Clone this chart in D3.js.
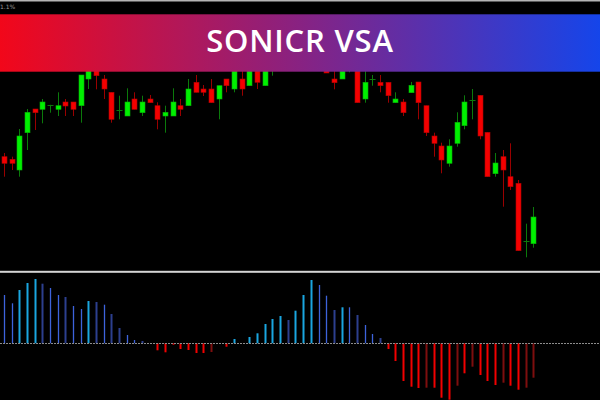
<!DOCTYPE html>
<html>
<head>
<meta charset="utf-8">
<script src="https://cdn.jsdelivr.net/npm/d3@7/dist/d3.min.js"></script>
<style>
html,body{margin:0;padding:0;background:#000;}
svg{display:block;}
</style>
</head>
<body>
<svg id="chart" width="600" height="400"></svg>
<script>
// ---- DATA ----
const title = "SONICR VSA";
const cornerLabel = "1.1%";
// candle index 0..69
const opens  = [143.3,140.7,130,167.3,191,190.7,194.8,190.7,198,198,194.3,221,234,221,207.7,190.5,184,201,187.3,201,
                194.3,184,184,194.3,194.3,217.7,211,211,201,221,211,221,214.3,238,214.3,240,255,245,258,272,
                268,270,242,221,221,238,250,201,220.8,217.7,217.7,197.3,198,207.3,218,194.3,164,154,136.7,156.7,
                174.3,200.5,204.7,167.7,126.3,143.3,123.3,116.7,59.5,56.3];
const highs  = [147,143.3,171,191,191,201,195.2,207.7,201,198,225,240,238,225,207.7,204.3,211.7,207.7,204.3,205,
                197.7,194.3,211.7,201,221,225,215,221,214.3,221,245,235,245,242,250,265,260,270,280,278,
                285,275,250,240,245,250,255,230,225,225,217.7,207.7,201,218,218,194.3,167.3,157.3,160.7,187.7,
                204.7,211,204.7,167.7,147,150,156.7,120,76.3,93];
const lows   = [123.3,130,123.3,150,170,176.7,187.3,184,184,184,177.3,211,210.7,201,177.3,180.7,184,190.7,184,197.3,
                170.7,167.3,184,184,194.3,207.7,204,197.3,180.7,207.7,207.7,204.3,214.3,211,214.3,224.3,234,238,252,250,
                255,240,227,210.7,221,227.7,197.3,197.3,214.3,207.7,197.3,197.3,184,207.3,180.7,164,143.3,126.7,133.3,153.3,
                170.7,180.7,160.7,123.3,123.3,93.3,110,49.3,42.7,52.3];
const closes = [136.7,136.7,164,187.7,187.3,198,195.2,194.3,194,190.7,225,235,224.3,211,180.7,190.9,198,190.7,198,197.3,
                180.7,187.7,198,190.7,211,207.7,207.7,197.3,214.3,214.3,240,211,240,217.7,245,260,242,262,275,260,
                280,248,227,217.3,240,240,197.3,217.7,221.2,214.3,204.3,201,187.3,214.7,197.3,167.3,156.7,140,154,177.7,
                198,200.9,164,123.3,137,130,113.3,49.3,59.9,83];
// oscillator histogram (one value per candle)
const vsaValues = [48.3,40,53.3,60.3,64.3,59.6,55.3,48.3,46.3,37.3,34.3,42.3,41.3,38.6,29.3,15.3,8.3,3.3,2.3,0,
                   -7,-9,-1.4,-5.7,-6.7,-9.7,-9.7,-8.7,0,-3.4,4.3,0,6.3,10,19.3,24.3,27.3,23.3,32.6,48.3,
                   63.3,58.3,47.6,33.3,36,36,28.3,18.3,9.3,5.3,-5.7,-17.7,-37.7,-43.4,-44.7,-44.4,-44.4,-54.4,-56.4,-42.4,
                   -30,-23.4,-31.7,-37.7,-41.7,-39.4,-42.4,-46.4,-44.4,-34.4];
// bar class: c = strong up, b = up, d = weak up, R = strong down, r = weak down
const vsaClass = ["b","b","c","c","c","d","b","b","d","b","b","c","d","b","d","d","b","b","d","b",
                  "R","R","R","R","R","R","R","r","R","R","c","c","c","c","c","c","c","d","c","c",
                  "c","b","b","d","c","b","d","b","b","d","R","R","R","R","R","r","R","R","R","r",
                  "R","r","R","R","R","r","R","R","r","r"];

// ---- LAYOUT ----
const W = 600, H = 400;
const svg = d3.select("#chart");
svg.append("rect").attr("width", W).attr("height", H).attr("fill", "#000");

const idx = d3.range(opens.length);
const x = d3.scalePoint().domain(idx).range([4, 533.3]);
const yP = d3.scaleLinear().domain([0, 300]).range([300, 0]);
const yV = d3.scaleLinear().domain([-60, 72]).range([403.3, 271.3]);

const defs = svg.append("defs");
defs.append("clipPath").attr("id", "pclip").append("rect")
  .attr("x", 0).attr("y", 14).attr("width", W).attr("height", 256);

const grad = defs.append("linearGradient").attr("id", "bannerGrad")
  .attr("x1", "0%").attr("x2", "100%").attr("y1", "0%").attr("y2", "0%");
grad.append("stop").attr("offset", "0%").attr("stop-color", "#f2071a");
grad.append("stop").attr("offset", "50%").attr("stop-color", "#882282");
grad.append("stop").attr("offset", "100%").attr("stop-color", "#1545ea");

// ---- CANDLES ----
const pane = svg.append("g").attr("clip-path", "url(#pclip)");
const candles = pane.selectAll("g.c").data(idx).join("g").attr("class", "c");
const isUp = i => closes[i] >= opens[i];
const isDoji = i => Math.abs(closes[i] - opens[i]) < 1;
candles.append("line")
  .attr("x1", i => Math.round(x(i)) + 0.5).attr("x2", i => Math.round(x(i)) + 0.5)
  .attr("y1", i => yP(highs[i])).attr("y2", i => yP(lows[i]))
  .attr("stroke", i => isUp(i) ? "#0b7a0b" : "#9a0000").attr("stroke-width", 1);
candles.filter(i => !isDoji(i)).append("rect")
  .attr("x", i => Math.round(x(i)) - 2)
  .attr("width", 5)
  .attr("y", i => yP(Math.max(opens[i], closes[i])))
  .attr("height", i => Math.abs(yP(opens[i]) - yP(closes[i])))
  .attr("fill", i => isUp(i) ? "#00f000" : "#f40000")
  .attr("stroke", i => isUp(i) ? "#04b004" : "#b00000").attr("stroke-width", 0.6);
candles.filter(i => isDoji(i)).append("line")
  .attr("x1", i => Math.round(x(i)) - 2.5).attr("x2", i => Math.round(x(i)) + 3.5)
  .attr("y1", i => Math.round(yP(opens[i])) + 0.5).attr("y2", i => Math.round(yP(opens[i])) + 0.5)
  .attr("stroke", "#0b7a0b").attr("stroke-width", 1);

// ---- separator ----
svg.append("rect").attr("x", 0).attr("y", 270.8).attr("width", W).attr("height", 2).attr("fill", "#d4d4d4");

// ---- HISTOGRAM ----
const colorOf = {c: "#1aa6e0", b: "#3d63dc", d: "#2c3f8e", R: "#f20000", r: "#7e0e0e"};
const widthOf = {c: 2, b: 1.3, d: 2, R: 2, r: 2};
svg.append("g").selectAll("rect").data(idx.filter(i => vsaValues[i] !== 0)).join("rect")
  .attr("x", i => Math.round(x(i)) - widthOf[vsaClass[i]] / 2 + 0.5)
  .attr("width", i => widthOf[vsaClass[i]])
  .attr("y", i => Math.min(yV(vsaValues[i]), yV(0)))
  .attr("height", i => Math.abs(yV(vsaValues[i]) - yV(0)))
  .attr("fill", i => colorOf[vsaClass[i]]);

svg.append("line")
  .attr("x1", 0).attr("x2", W)
  .attr("y1", Math.round(yV(0)) + 0.5).attr("y2", Math.round(yV(0)) + 0.5)
  .attr("stroke", "#8c8c8c").attr("stroke-width", 1).attr("stroke-dasharray", "2,1");

// ---- top strip ----
svg.append("rect").attr("x", 0).attr("y", 0).attr("width", W).attr("height", 1.5).attr("fill", "#b5b5b5");
svg.append("text").attr("x", 0).attr("y", 9).attr("font-family", "DejaVu Sans, sans-serif")
  .attr("font-size", 6).attr("fill", "#9a9a9a").text(cornerLabel);

// ---- BANNER ----
svg.append("rect").attr("x", 0).attr("y", 14.3).attr("width", W).attr("height", 57.4).attr("fill", "url(#bannerGrad)");
svg.append("text").attr("x", 300).attr("y", 51.5)
  .attr("text-anchor", "middle")
  .attr("font-family", "'Open Sans', 'Noto Sans', sans-serif")
  .attr("font-weight", 600).attr("font-size", 31)
  .attr("letter-spacing", 0.8)
  .attr("fill", "#ffffff").text(title);
</script>
</body>
</html>
